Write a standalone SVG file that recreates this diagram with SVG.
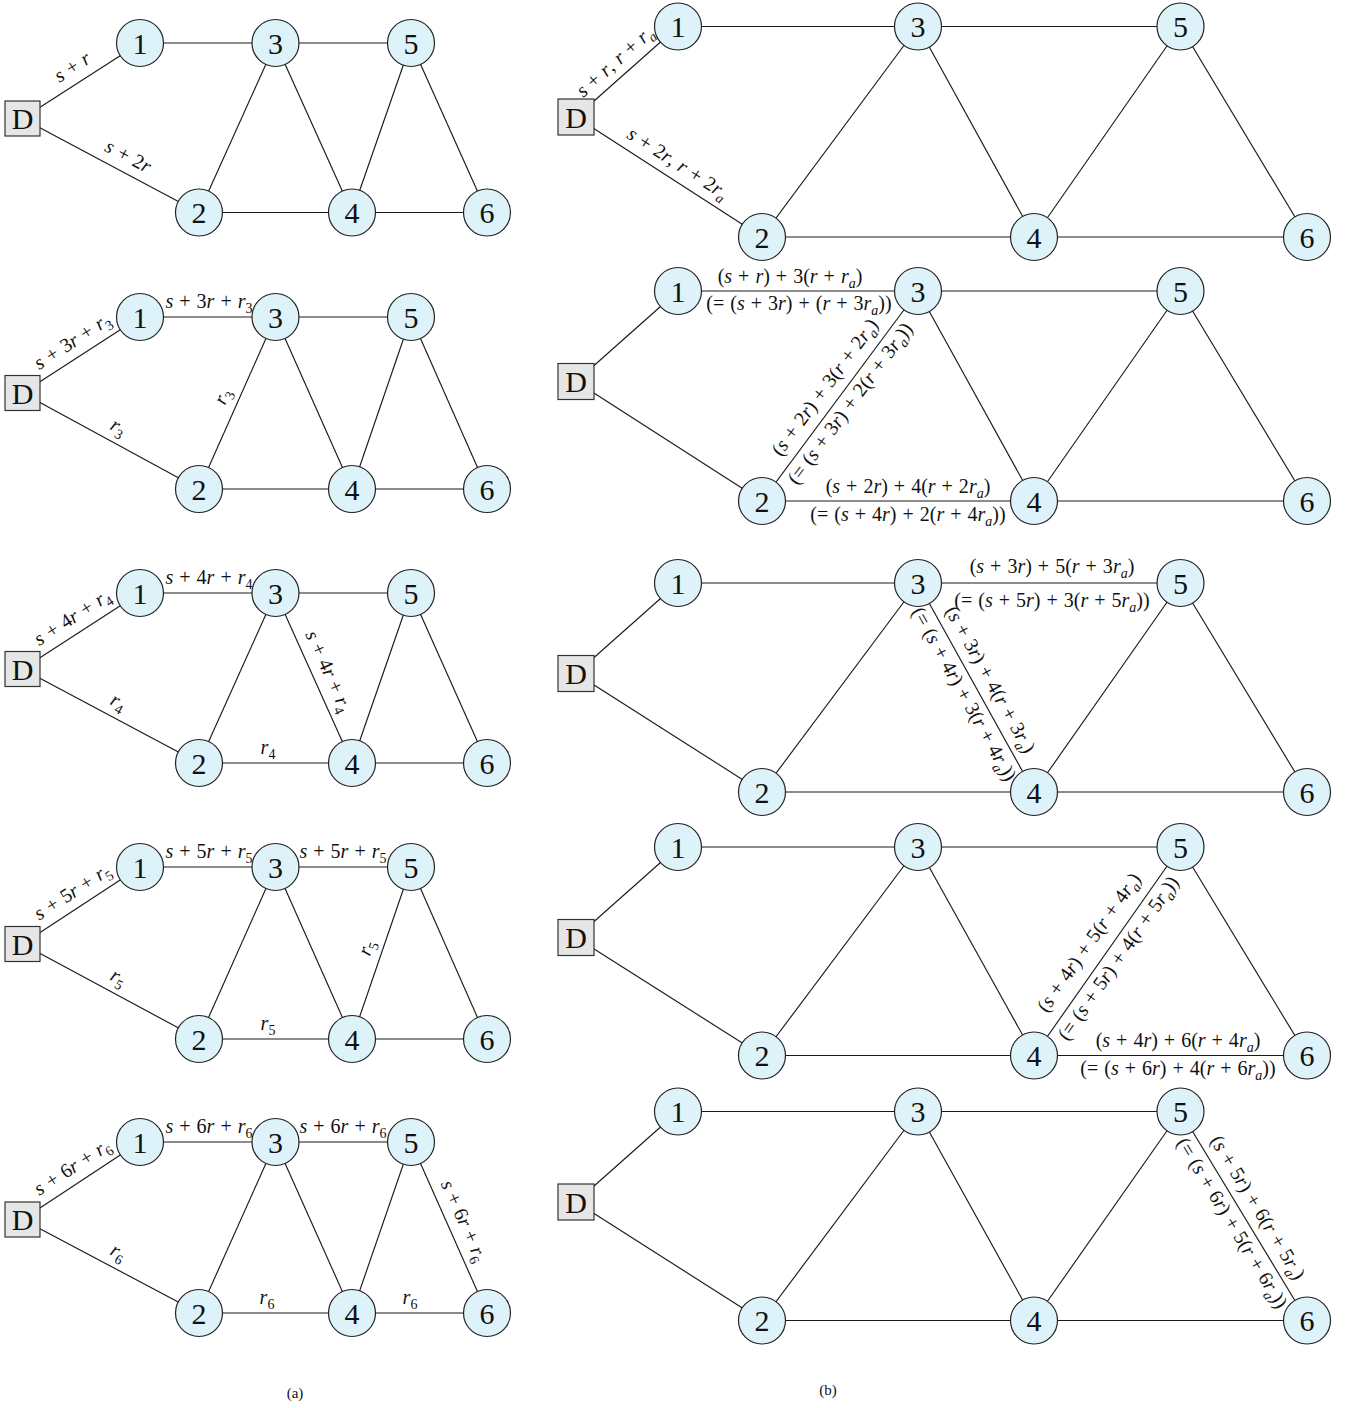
<svg xmlns="http://www.w3.org/2000/svg" width="1348" height="1408" viewBox="0 0 1348 1408">
<style>
.e line{stroke:#1a1a1a;stroke-width:1.15;fill:none}
.n circle{fill:#def2fa;stroke:#222;stroke-width:1.2}
.n rect{fill:#e6e6e6;stroke:#333;stroke-width:1.2}
.n text{font-family:"Liberation Serif","Times New Roman",serif;font-size:30px;text-anchor:middle;fill:#111}
.l{font-family:"Liberation Serif","Times New Roman",serif;font-size:20px;text-anchor:middle;fill:#111;word-spacing:1px}
.i{font-style:italic}
.s{font-size:14px}
.cap{font-family:"Liberation Serif","Times New Roman",serif;font-size:15px;text-anchor:middle;fill:#111}
</style>
<rect width="1348" height="1408" fill="#ffffff"/>

<!-- ===================== (a) column ===================== -->
<g id="a1">
<g id="a1-edges" class="e">
<line x1="22.5" y1="118.5" x2="140" y2="43"/><line x1="22.5" y1="118.5" x2="199" y2="212.5"/>
<line x1="140" y1="43" x2="275.5" y2="43"/><line x1="275.5" y1="43" x2="411" y2="43"/>
<line x1="275.5" y1="43" x2="199" y2="212.5"/><line x1="275.5" y1="43" x2="352" y2="212.5"/>
<line x1="411" y1="43" x2="352" y2="212.5"/><line x1="411" y1="43" x2="487" y2="212.5"/>
<line x1="199" y1="212.5" x2="352" y2="212.5"/><line x1="352" y1="212.5" x2="487" y2="212.5"/>
</g>
<g id="a1-D" class="n"><rect x="5" y="101" width="35" height="35"/><text x="22.5" y="129">D</text></g>
<g id="a1-1" class="n"><circle cx="140" cy="43" r="23.5"/><text x="140" y="53.5">1</text></g>
<g id="a1-3" class="n"><circle cx="275.5" cy="43" r="23.5"/><text x="275.5" y="53.5">3</text></g>
<g id="a1-5" class="n"><circle cx="411" cy="43" r="23.5"/><text x="411" y="53.5">5</text></g>
<g id="a1-2" class="n"><circle cx="199" cy="212.5" r="23.5"/><text x="199" y="223">2</text></g>
<g id="a1-4" class="n"><circle cx="352" cy="212.5" r="23.5"/><text x="352" y="223">4</text></g>
<g id="a1-6" class="n"><circle cx="487" cy="212.5" r="23.5"/><text x="487" y="223">6</text></g>
<g id="a1-labels">
<text class="l" transform="translate(81.25,80.75) rotate(-33)" y="-10"><tspan class="i">s</tspan> + <tspan class="i">r</tspan></text>
<text class="l" transform="translate(120.5,170.7) rotate(28)" y="-10"><tspan class="i">s</tspan> + 2<tspan class="i">r</tspan></text>
</g>
</g>

<g id="a2">
<g id="a2-edges" class="e">
<line x1="22.5" y1="393" x2="140" y2="317"/><line x1="22.5" y1="393" x2="199" y2="489"/>
<line x1="140" y1="317" x2="275.5" y2="317"/><line x1="275.5" y1="317" x2="411" y2="317"/>
<line x1="275.5" y1="317" x2="199" y2="489"/><line x1="275.5" y1="317" x2="352" y2="489"/>
<line x1="411" y1="317" x2="352" y2="489"/><line x1="411" y1="317" x2="487" y2="489"/>
<line x1="199" y1="489" x2="352" y2="489"/><line x1="352" y1="489" x2="487" y2="489"/>
</g>
<g id="a2-D" class="n"><rect x="5" y="375.5" width="35" height="35"/><text x="22.5" y="403.5">D</text></g>
<g id="a2-1" class="n"><circle cx="140" cy="317" r="23.5"/><text x="140" y="327.5">1</text></g>
<g id="a2-3" class="n"><circle cx="275.5" cy="317" r="23.5"/><text x="275.5" y="327.5">3</text></g>
<g id="a2-5" class="n"><circle cx="411" cy="317" r="23.5"/><text x="411" y="327.5">5</text></g>
<g id="a2-2" class="n"><circle cx="199" cy="489" r="23.5"/><text x="199" y="499.5">2</text></g>
<g id="a2-4" class="n"><circle cx="352" cy="489" r="23.5"/><text x="352" y="499.5">4</text></g>
<g id="a2-6" class="n"><circle cx="487" cy="489" r="23.5"/><text x="487" y="499.5">6</text></g>
<g id="a2-labels">
<text class="l" transform="translate(81.25,355) rotate(-33)" y="-10"><tspan class="i">s</tspan> + 3<tspan class="i">r</tspan> + <tspan class="i">r</tspan><tspan class="s" dy="5">3</tspan></text>
<text class="l" x="209" y="308"><tspan class="i">s</tspan> + 3<tspan class="i">r</tspan> + <tspan class="i">r</tspan><tspan class="s" dy="5">3</tspan></text>
<text class="l" transform="translate(110.75,441) rotate(28.5)" y="-10"><tspan class="i">r</tspan><tspan class="s" dy="5">3</tspan></text>
<text class="l" transform="translate(237.25,403) rotate(-66)" y="-10"><tspan class="i">r</tspan><tspan class="s" dy="5">3</tspan></text>
</g>
</g>

<g id="a3">
<g id="a3-edges" class="e">
<line x1="22.5" y1="669" x2="140" y2="593"/><line x1="22.5" y1="669" x2="199" y2="763"/>
<line x1="140" y1="593" x2="275.5" y2="593"/><line x1="275.5" y1="593" x2="411" y2="593"/>
<line x1="275.5" y1="593" x2="199" y2="763"/><line x1="275.5" y1="593" x2="352" y2="763"/>
<line x1="411" y1="593" x2="352" y2="763"/><line x1="411" y1="593" x2="487" y2="763"/>
<line x1="199" y1="763" x2="352" y2="763"/><line x1="352" y1="763" x2="487" y2="763"/>
</g>
<g id="a3-D" class="n"><rect x="5" y="651.5" width="35" height="35"/><text x="22.5" y="679.5">D</text></g>
<g id="a3-1" class="n"><circle cx="140" cy="593" r="23.5"/><text x="140" y="603.5">1</text></g>
<g id="a3-3" class="n"><circle cx="275.5" cy="593" r="23.5"/><text x="275.5" y="603.5">3</text></g>
<g id="a3-5" class="n"><circle cx="411" cy="593" r="23.5"/><text x="411" y="603.5">5</text></g>
<g id="a3-2" class="n"><circle cx="199" cy="763" r="23.5"/><text x="199" y="773.5">2</text></g>
<g id="a3-4" class="n"><circle cx="352" cy="763" r="23.5"/><text x="352" y="773.5">4</text></g>
<g id="a3-6" class="n"><circle cx="487" cy="763" r="23.5"/><text x="487" y="773.5">6</text></g>
<g id="a3-labels">
<text class="l" transform="translate(81.25,631) rotate(-33)" y="-10"><tspan class="i">s</tspan> + 4<tspan class="i">r</tspan> + <tspan class="i">r</tspan><tspan class="s" dy="5">4</tspan></text>
<text class="l" x="209" y="584"><tspan class="i">s</tspan> + 4<tspan class="i">r</tspan> + <tspan class="i">r</tspan><tspan class="s" dy="5">4</tspan></text>
<text class="l" transform="translate(110.75,716) rotate(28)" y="-10"><tspan class="i">r</tspan><tspan class="s" dy="5">4</tspan></text>
<text class="l" x="268" y="754"><tspan class="i">r</tspan><tspan class="s" dy="5">4</tspan></text>
<text class="l" transform="translate(313.75,678) rotate(65.8)" y="-10"><tspan class="i">s</tspan> + 4<tspan class="i">r</tspan> + <tspan class="i">r</tspan><tspan class="s" dy="5">4</tspan></text>
</g>
</g>

<g id="a4">
<g id="a4-edges" class="e">
<line x1="22.5" y1="944" x2="140" y2="867"/><line x1="22.5" y1="944" x2="199" y2="1039"/>
<line x1="140" y1="867" x2="275.5" y2="867"/><line x1="275.5" y1="867" x2="411" y2="867"/>
<line x1="275.5" y1="867" x2="199" y2="1039"/><line x1="275.5" y1="867" x2="352" y2="1039"/>
<line x1="411" y1="867" x2="352" y2="1039"/><line x1="411" y1="867" x2="487" y2="1039"/>
<line x1="199" y1="1039" x2="352" y2="1039"/><line x1="352" y1="1039" x2="487" y2="1039"/>
</g>
<g id="a4-D" class="n"><rect x="5" y="926.5" width="35" height="35"/><text x="22.5" y="954.5">D</text></g>
<g id="a4-1" class="n"><circle cx="140" cy="867" r="23.5"/><text x="140" y="877.5">1</text></g>
<g id="a4-3" class="n"><circle cx="275.5" cy="867" r="23.5"/><text x="275.5" y="877.5">3</text></g>
<g id="a4-5" class="n"><circle cx="411" cy="867" r="23.5"/><text x="411" y="877.5">5</text></g>
<g id="a4-2" class="n"><circle cx="199" cy="1039" r="23.5"/><text x="199" y="1049.5">2</text></g>
<g id="a4-4" class="n"><circle cx="352" cy="1039" r="23.5"/><text x="352" y="1049.5">4</text></g>
<g id="a4-6" class="n"><circle cx="487" cy="1039" r="23.5"/><text x="487" y="1049.5">6</text></g>
<g id="a4-labels">
<text class="l" transform="translate(81.25,905.5) rotate(-33)" y="-10"><tspan class="i">s</tspan> + 5<tspan class="i">r</tspan> + <tspan class="i">r</tspan><tspan class="s" dy="5">5</tspan></text>
<text class="l" x="209" y="858"><tspan class="i">s</tspan> + 5<tspan class="i">r</tspan> + <tspan class="i">r</tspan><tspan class="s" dy="5">5</tspan></text>
<text class="l" x="343" y="858"><tspan class="i">s</tspan> + 5<tspan class="i">r</tspan> + <tspan class="i">r</tspan><tspan class="s" dy="5">5</tspan></text>
<text class="l" transform="translate(110.75,991.5) rotate(28)" y="-10"><tspan class="i">r</tspan><tspan class="s" dy="5">5</tspan></text>
<text class="l" transform="translate(381.5,953) rotate(-71)" y="-10"><tspan class="i">r</tspan><tspan class="s" dy="5">5</tspan></text>
<text class="l" x="268" y="1030"><tspan class="i">r</tspan><tspan class="s" dy="5">5</tspan></text>
</g>
</g>

<g id="a5">
<g id="a5-edges" class="e">
<line x1="22.5" y1="1219.5" x2="140" y2="1142"/><line x1="22.5" y1="1219.5" x2="199" y2="1313"/>
<line x1="140" y1="1142" x2="275.5" y2="1142"/><line x1="275.5" y1="1142" x2="411" y2="1142"/>
<line x1="275.5" y1="1142" x2="199" y2="1313"/><line x1="275.5" y1="1142" x2="352" y2="1313"/>
<line x1="411" y1="1142" x2="352" y2="1313"/><line x1="411" y1="1142" x2="487" y2="1313"/>
<line x1="199" y1="1313" x2="352" y2="1313"/><line x1="352" y1="1313" x2="487" y2="1313"/>
</g>
<g id="a5-D" class="n"><rect x="5" y="1202" width="35" height="35"/><text x="22.5" y="1230">D</text></g>
<g id="a5-1" class="n"><circle cx="140" cy="1142" r="23.5"/><text x="140" y="1152.5">1</text></g>
<g id="a5-3" class="n"><circle cx="275.5" cy="1142" r="23.5"/><text x="275.5" y="1152.5">3</text></g>
<g id="a5-5" class="n"><circle cx="411" cy="1142" r="23.5"/><text x="411" y="1152.5">5</text></g>
<g id="a5-2" class="n"><circle cx="199" cy="1313" r="23.5"/><text x="199" y="1323.5">2</text></g>
<g id="a5-4" class="n"><circle cx="352" cy="1313" r="23.5"/><text x="352" y="1323.5">4</text></g>
<g id="a5-6" class="n"><circle cx="487" cy="1313" r="23.5"/><text x="487" y="1323.5">6</text></g>
<g id="a5-labels">
<text class="l" transform="translate(81.25,1180.75) rotate(-33)" y="-10"><tspan class="i">s</tspan> + 6<tspan class="i">r</tspan> + <tspan class="i">r</tspan><tspan class="s" dy="5">6</tspan></text>
<text class="l" x="209" y="1133"><tspan class="i">s</tspan> + 6<tspan class="i">r</tspan> + <tspan class="i">r</tspan><tspan class="s" dy="5">6</tspan></text>
<text class="l" x="343" y="1133"><tspan class="i">s</tspan> + 6<tspan class="i">r</tspan> + <tspan class="i">r</tspan><tspan class="s" dy="5">6</tspan></text>
<text class="l" transform="translate(110.75,1266.25) rotate(28)" y="-10"><tspan class="i">r</tspan><tspan class="s" dy="5">6</tspan></text>
<text class="l" x="267" y="1304"><tspan class="i">r</tspan><tspan class="s" dy="5">6</tspan></text>
<text class="l" x="410" y="1304"><tspan class="i">r</tspan><tspan class="s" dy="5">6</tspan></text>
<text class="l" transform="translate(449,1227.5) rotate(66)" y="-10"><tspan class="i">s</tspan> + 6<tspan class="i">r</tspan> + <tspan class="i">r</tspan><tspan class="s" dy="5">6</tspan></text>
</g>
</g>
<text class="cap" x="295" y="1398">(a)</text>

<!-- ===================== (b) column ===================== -->
<g id="b1">
<g id="b1-edges" class="e">
<line x1="576" y1="117" x2="678" y2="26.5"/><line x1="576" y1="117" x2="762" y2="237"/>
<line x1="678" y1="26.5" x2="918" y2="26.5"/><line x1="918" y1="26.5" x2="1180.5" y2="26.5"/>
<line x1="918" y1="26.5" x2="762" y2="237"/><line x1="918" y1="26.5" x2="1034" y2="237"/>
<line x1="1180.5" y1="26.5" x2="1034" y2="237"/><line x1="1180.5" y1="26.5" x2="1307" y2="237"/>
<line x1="762" y1="237" x2="1034" y2="237"/><line x1="1034" y1="237" x2="1307" y2="237"/>
</g>
<g id="b1-D" class="n"><rect x="558" y="99" width="36" height="36"/><text x="576" y="127.5">D</text></g>
<g id="b1-1" class="n"><circle cx="678" cy="26.5" r="23.5"/><text x="678" y="37">1</text></g>
<g id="b1-3" class="n"><circle cx="918" cy="26.5" r="23.5"/><text x="918" y="37">3</text></g>
<g id="b1-5" class="n"><circle cx="1180.5" cy="26.5" r="23.5"/><text x="1180.5" y="37">5</text></g>
<g id="b1-2" class="n"><circle cx="762" cy="237" r="23.5"/><text x="762" y="247.5">2</text></g>
<g id="b1-4" class="n"><circle cx="1034" cy="237" r="23.5"/><text x="1034" y="247.5">4</text></g>
<g id="b1-6" class="n"><circle cx="1307" cy="237" r="23.5"/><text x="1307" y="247.5">6</text></g>
<g id="b1-labels">
<text class="l" transform="translate(625,73) rotate(-41.6)" y="-9"><tspan class="i">s</tspan> + <tspan class="i">r</tspan>, <tspan class="i">r</tspan> + <tspan class="i">r</tspan><tspan class="i s" dy="5">a</tspan></text>
<text class="l" transform="translate(669,177) rotate(32.8)" y="-10"><tspan class="i">s</tspan> + 2<tspan class="i">r</tspan>, <tspan class="i">r</tspan> + 2<tspan class="i">r</tspan><tspan class="i s" dy="5">a</tspan></text>
</g>
</g>

<g id="b2">
<g id="b2-edges" class="e">
<line x1="576" y1="381.5" x2="678" y2="291"/><line x1="576" y1="381.5" x2="762" y2="501"/>
<line x1="678" y1="291" x2="918" y2="291"/><line x1="918" y1="291" x2="1180.5" y2="291"/>
<line x1="918" y1="291" x2="762" y2="501"/><line x1="918" y1="291" x2="1034" y2="501"/>
<line x1="1180.5" y1="291" x2="1034" y2="501"/><line x1="1180.5" y1="291" x2="1307" y2="501"/>
<line x1="762" y1="501" x2="1034" y2="501"/><line x1="1034" y1="501" x2="1307" y2="501"/>
</g>
<g id="b2-D" class="n"><rect x="558" y="363.5" width="36" height="36"/><text x="576" y="392">D</text></g>
<g id="b2-1" class="n"><circle cx="678" cy="291" r="23.5"/><text x="678" y="301.5">1</text></g>
<g id="b2-3" class="n"><circle cx="918" cy="291" r="23.5"/><text x="918" y="301.5">3</text></g>
<g id="b2-5" class="n"><circle cx="1180.5" cy="291" r="23.5"/><text x="1180.5" y="301.5">5</text></g>
<g id="b2-2" class="n"><circle cx="762" cy="501" r="23.5"/><text x="762" y="511.5">2</text></g>
<g id="b2-4" class="n"><circle cx="1034" cy="501" r="23.5"/><text x="1034" y="511.5">4</text></g>
<g id="b2-6" class="n"><circle cx="1307" cy="501" r="23.5"/><text x="1307" y="511.5">6</text></g>
<g id="b2-labels">
<text class="l" x="790" y="283">(<tspan class="i">s</tspan> + <tspan class="i">r</tspan>) + 3(<tspan class="i">r</tspan> + <tspan class="i">r</tspan><tspan class="i s" dy="5">a</tspan><tspan dy="-5">)</tspan></text>
<text class="l" x="799" y="310">(= (<tspan class="i">s</tspan> + 3<tspan class="i">r</tspan>) + (<tspan class="i">r</tspan> + 3<tspan class="i">r</tspan><tspan class="i s" dy="5">a</tspan><tspan dy="-5">))</tspan></text>
<text class="l" transform="translate(838,397) rotate(-53.4)" y="-10">(<tspan class="i">s</tspan> + 2<tspan class="i">r</tspan>) + 3(<tspan class="i">r</tspan> + 2<tspan class="i">r</tspan><tspan class="i s" dy="5">a</tspan><tspan dy="-5">)</tspan></text>
<text class="l" transform="translate(840,396) rotate(-53.4)" y="19">(= (<tspan class="i">s</tspan> + 3<tspan class="i">r</tspan>) + 2(<tspan class="i">r</tspan> + 3<tspan class="i">r</tspan><tspan class="i s" dy="5">a</tspan><tspan dy="-5">))</tspan></text>
<text class="l" x="908" y="493">(<tspan class="i">s</tspan> + 2<tspan class="i">r</tspan>) + 4(<tspan class="i">r</tspan> + 2<tspan class="i">r</tspan><tspan class="i s" dy="5">a</tspan><tspan dy="-5">)</tspan></text>
<text class="l" x="908" y="521">(= (<tspan class="i">s</tspan> + 4<tspan class="i">r</tspan>) + 2(<tspan class="i">r</tspan> + 4<tspan class="i">r</tspan><tspan class="i s" dy="5">a</tspan><tspan dy="-5">))</tspan></text>
</g>
</g>

<g id="b3">
<g id="b3-edges" class="e">
<line x1="576" y1="673.5" x2="678" y2="583"/><line x1="576" y1="673.5" x2="762" y2="792"/>
<line x1="678" y1="583" x2="918" y2="583"/><line x1="918" y1="583" x2="1180.5" y2="583"/>
<line x1="918" y1="583" x2="762" y2="792"/><line x1="918" y1="583" x2="1034" y2="792"/>
<line x1="1180.5" y1="583" x2="1034" y2="792"/><line x1="1180.5" y1="583" x2="1307" y2="792"/>
<line x1="762" y1="792" x2="1034" y2="792"/><line x1="1034" y1="792" x2="1307" y2="792"/>
</g>
<g id="b3-D" class="n"><rect x="558" y="655.5" width="36" height="36"/><text x="576" y="684">D</text></g>
<g id="b3-1" class="n"><circle cx="678" cy="583" r="23.5"/><text x="678" y="593.5">1</text></g>
<g id="b3-3" class="n"><circle cx="918" cy="583" r="23.5"/><text x="918" y="593.5">3</text></g>
<g id="b3-5" class="n"><circle cx="1180.5" cy="583" r="23.5"/><text x="1180.5" y="593.5">5</text></g>
<g id="b3-2" class="n"><circle cx="762" cy="792" r="23.5"/><text x="762" y="802.5">2</text></g>
<g id="b3-4" class="n"><circle cx="1034" cy="792" r="23.5"/><text x="1034" y="802.5">4</text></g>
<g id="b3-6" class="n"><circle cx="1307" cy="792" r="23.5"/><text x="1307" y="802.5">6</text></g>
<g id="b3-labels">
<text class="l" x="1052" y="573">(<tspan class="i">s</tspan> + 3<tspan class="i">r</tspan>) + 5(<tspan class="i">r</tspan> + 3<tspan class="i">r</tspan><tspan class="i s" dy="5">a</tspan><tspan dy="-5">)</tspan></text>
<text class="l" x="1052" y="607">(= (<tspan class="i">s</tspan> + 5<tspan class="i">r</tspan>) + 3(<tspan class="i">r</tspan> + 5<tspan class="i">r</tspan><tspan class="i s" dy="5">a</tspan><tspan dy="-5">))</tspan></text>
<text class="l" transform="translate(976,687.5) rotate(61)" y="-10">(<tspan class="i">s</tspan> + 3<tspan class="i">r</tspan>) + 4(<tspan class="i">r</tspan> + 3<tspan class="i">r</tspan><tspan class="i s" dy="5">a</tspan><tspan dy="-5">)</tspan></text>
<text class="l" transform="translate(976,687.5) rotate(61)" y="20">(= (<tspan class="i">s</tspan> + 4<tspan class="i">r</tspan>) + 3(<tspan class="i">r</tspan> + 4<tspan class="i">r</tspan><tspan class="i s" dy="5">a</tspan><tspan dy="-5">))</tspan></text>
</g>
</g>

<g id="b4">
<g id="b4-edges" class="e">
<line x1="576" y1="937.5" x2="678" y2="847"/><line x1="576" y1="937.5" x2="762" y2="1055.5"/>
<line x1="678" y1="847" x2="918" y2="847"/><line x1="918" y1="847" x2="1180.5" y2="847"/>
<line x1="918" y1="847" x2="762" y2="1055.5"/><line x1="918" y1="847" x2="1034" y2="1055.5"/>
<line x1="1180.5" y1="847" x2="1034" y2="1055.5"/><line x1="1180.5" y1="847" x2="1307" y2="1055.5"/>
<line x1="762" y1="1055.5" x2="1034" y2="1055.5"/><line x1="1034" y1="1055.5" x2="1307" y2="1055.5"/>
</g>
<g id="b4-D" class="n"><rect x="558" y="919.5" width="36" height="36"/><text x="576" y="948">D</text></g>
<g id="b4-1" class="n"><circle cx="678" cy="847" r="23.5"/><text x="678" y="857.5">1</text></g>
<g id="b4-3" class="n"><circle cx="918" cy="847" r="23.5"/><text x="918" y="857.5">3</text></g>
<g id="b4-5" class="n"><circle cx="1180.5" cy="847" r="23.5"/><text x="1180.5" y="857.5">5</text></g>
<g id="b4-2" class="n"><circle cx="762" cy="1055.5" r="23.5"/><text x="762" y="1066">2</text></g>
<g id="b4-4" class="n"><circle cx="1034" cy="1055.5" r="23.5"/><text x="1034" y="1066">4</text></g>
<g id="b4-6" class="n"><circle cx="1307" cy="1055.5" r="23.5"/><text x="1307" y="1066">6</text></g>
<g id="b4-labels">
<text class="l" transform="translate(1104,953) rotate(-54.9)" y="-12">(<tspan class="i">s</tspan> + 4<tspan class="i">r</tspan>) + 5(<tspan class="i">r</tspan> + 4<tspan class="i">r</tspan><tspan class="i s" dy="5">a</tspan><tspan dy="-5">)</tspan></text>
<text class="l" transform="translate(1108,951) rotate(-54.9)" y="19">(= (<tspan class="i">s</tspan> + 5<tspan class="i">r</tspan>) + 4(<tspan class="i">r</tspan> + 5<tspan class="i">r</tspan><tspan class="i s" dy="5">a</tspan><tspan dy="-5">))</tspan></text>
<text class="l" x="1178" y="1047">(<tspan class="i">s</tspan> + 4<tspan class="i">r</tspan>) + 6(<tspan class="i">r</tspan> + 4<tspan class="i">r</tspan><tspan class="i s" dy="5">a</tspan><tspan dy="-5">)</tspan></text>
<text class="l" x="1178" y="1075">(= (<tspan class="i">s</tspan> + 6<tspan class="i">r</tspan>) + 4(<tspan class="i">r</tspan> + 6<tspan class="i">r</tspan><tspan class="i s" dy="5">a</tspan><tspan dy="-5">))</tspan></text>
</g>
</g>

<g id="b5">
<g id="b5-edges" class="e">
<line x1="576" y1="1202" x2="678" y2="1111.5"/><line x1="576" y1="1202" x2="762" y2="1320.5"/>
<line x1="678" y1="1111.5" x2="918" y2="1111.5"/><line x1="918" y1="1111.5" x2="1180.5" y2="1111.5"/>
<line x1="918" y1="1111.5" x2="762" y2="1320.5"/><line x1="918" y1="1111.5" x2="1034" y2="1320.5"/>
<line x1="1180.5" y1="1111.5" x2="1034" y2="1320.5"/><line x1="1180.5" y1="1111.5" x2="1307" y2="1320.5"/>
<line x1="762" y1="1320.5" x2="1034" y2="1320.5"/><line x1="1034" y1="1320.5" x2="1307" y2="1320.5"/>
</g>
<g id="b5-D" class="n"><rect x="558" y="1184" width="36" height="36"/><text x="576" y="1212.5">D</text></g>
<g id="b5-1" class="n"><circle cx="678" cy="1111.5" r="23.5"/><text x="678" y="1122">1</text></g>
<g id="b5-3" class="n"><circle cx="918" cy="1111.5" r="23.5"/><text x="918" y="1122">3</text></g>
<g id="b5-5" class="n"><circle cx="1180.5" cy="1111.5" r="23.5"/><text x="1180.5" y="1122">5</text></g>
<g id="b5-2" class="n"><circle cx="762" cy="1320.5" r="23.5"/><text x="762" y="1331">2</text></g>
<g id="b5-4" class="n"><circle cx="1034" cy="1320.5" r="23.5"/><text x="1034" y="1331">4</text></g>
<g id="b5-6" class="n"><circle cx="1307" cy="1320.5" r="23.5"/><text x="1307" y="1331">6</text></g>
<g id="b5-labels">
<text class="l" transform="translate(1243.75,1216) rotate(58.8)" y="-10">(<tspan class="i">s</tspan> + 5<tspan class="i">r</tspan>) + 6(<tspan class="i">r</tspan> + 5<tspan class="i">r</tspan><tspan class="i s" dy="5">a</tspan><tspan dy="-5">)</tspan></text>
<text class="l" transform="translate(1243.75,1216) rotate(58.8)" y="20">(= (<tspan class="i">s</tspan> + 6<tspan class="i">r</tspan>) + 5(<tspan class="i">r</tspan> + 6<tspan class="i">r</tspan><tspan class="i s" dy="5">a</tspan><tspan dy="-5">))</tspan></text>
</g>
</g>
<text class="cap" x="828" y="1395">(b)</text>
</svg>
